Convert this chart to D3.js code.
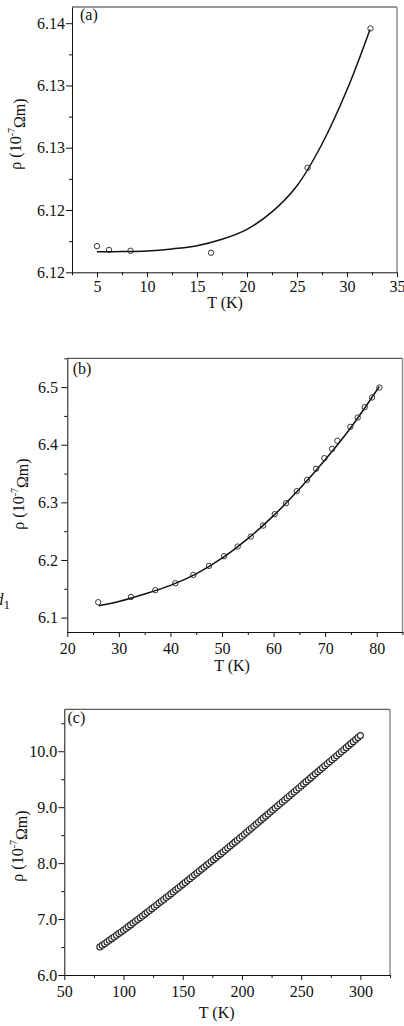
<!DOCTYPE html>
<html>
<head>
<meta charset="utf-8">
<script src="https://cdn.jsdelivr.net/npm/d3@7"></script>
<style>
  body { margin: 0; background: #fff; }
  svg { display: block; }
  text { font-family: "Liberation Serif", "DejaVu Serif", serif; }
</style>
</head>
<body>
<svg id="chart" width="404" height="1026" font-family="Liberation Serif"></svg>
<script>
// ---- panel (a): 5-35 K ----
const aT = [5.0, 6.2, 8.35, 16.4, 26.05, 32.35];
const aRho = [6.1221, 6.1218, 6.12173, 6.12157, 6.12839, 6.13958];
const aFitT = [5, 7.5, 10, 12.5, 15, 17.5, 20, 22.5, 25, 27.5, 30, 32.3];
const aFitRho = [6.12165, 6.12167, 6.12172, 6.12188, 6.12214, 6.12265, 6.12345, 6.12485,
  6.12695, 6.13030, 6.13465, 6.1395];
const aXTicks = [5, 10, 15, 20, 25, 30, 35];
const aXMinor = [2.5, 7.5, 12.5, 17.5, 22.5, 27.5, 32.5];
const aYTicks = [6.120, 6.125, 6.130, 6.135, 6.140];
const aYLabels = ["6.12", "6.12", "6.13", "6.13", "6.14"];
const aYMinor = [6.1225, 6.1275, 6.1325, 6.1375];

// ---- panel (b): 20-85 K ----
const bT = [26.0, 32.35, 37.07, 40.95, 44.44, 47.48, 50.39, 53.05, 55.57, 57.96, 60.22, 62.42,
  64.49, 66.49, 68.24, 69.85, 71.34, 72.37, 74.89, 76.32, 77.68, 79.1, 80.52];
const bRho = [6.1267, 6.1359, 6.1475, 6.1597, 6.1741, 6.1898, 6.2066, 6.2233, 6.2406, 6.2597,
  6.2795, 6.2986, 6.3194, 6.3391, 6.3582, 6.3767, 6.3929, 6.4068, 6.4311, 6.4472, 6.4653,
  6.482, 6.4993];
const bFitT = [26.1, 30, 35, 40, 45, 50, 55, 60, 65, 70, 75, 80.5];
const bFitRho = [6.1205, 6.128, 6.141, 6.156, 6.176, 6.203, 6.237, 6.277, 6.323, 6.374, 6.430, 6.501];
const bXTicks = [20, 30, 40, 50, 60, 70, 80];
const bXMinor = [25, 35, 45, 55, 65, 75, 85];
const bYTicks = [6.1, 6.2, 6.3, 6.4, 6.5];
const bYMinor = [6.15, 6.25, 6.35, 6.45, 6.55];

// ---- panel (c): 80-300 K ----
const cT = [80, 82, 84, 86, 88, 90, 92, 94, 96, 98, 100, 102, 104, 106, 108, 110, 112, 114, 116, 118,
  120, 122, 124, 126, 128, 130, 132, 134, 136, 138, 140, 142, 144, 146, 148, 150, 152, 154, 156, 158,
  160, 162, 164, 166, 168, 170, 172, 174, 176, 178, 180, 182, 184, 186, 188, 190, 192, 194, 196, 198,
  200, 202, 204, 206, 208, 210, 212, 214, 216, 218, 220, 222, 224, 226, 228, 230, 232, 234, 236, 238,
  240, 242, 244, 246, 248, 250, 252, 254, 256, 258, 260, 262, 264, 266, 268, 270, 272, 274, 276, 278,
  280, 282, 284, 286, 288, 290, 292, 294, 296, 298, 300];
const cRho = [6.500, 6.530, 6.560, 6.590, 6.620, 6.650, 6.680, 6.710, 6.740, 6.770,
  6.800, 6.832, 6.864, 6.896, 6.928, 6.960, 6.992, 7.024, 7.056, 7.088,
  7.120, 7.153, 7.186, 7.219, 7.252, 7.285, 7.318, 7.351, 7.384, 7.417,
  7.450, 7.484, 7.518, 7.552, 7.586, 7.620, 7.654, 7.688, 7.722, 7.756,
  7.790, 7.824, 7.858, 7.892, 7.926, 7.960, 7.994, 8.028, 8.062, 8.096,
  8.130, 8.165, 8.200, 8.235, 8.270, 8.305, 8.340, 8.375, 8.410, 8.445,
  8.480, 8.516, 8.552, 8.588, 8.624, 8.660, 8.696, 8.732, 8.768, 8.804,
  8.840, 8.876, 8.912, 8.948, 8.984, 9.020, 9.056, 9.092, 9.128, 9.164,
  9.200, 9.236, 9.272, 9.308, 9.344, 9.380, 9.416, 9.452, 9.488, 9.524,
  9.560, 9.596, 9.632, 9.668, 9.704, 9.740, 9.776, 9.812, 9.848, 9.884,
  9.920, 9.956, 9.992, 10.028, 10.064, 10.100, 10.136, 10.172, 10.208, 10.244, 10.280];
const cXTicks = [50, 100, 150, 200, 250, 300];
const cXMinor = [75, 125, 175, 225, 275, 325];
const cYTicks = [6.0, 7.0, 8.0, 9.0, 10.0];
const cYMinor = [6.5, 7.5, 8.5, 9.5, 10.5];

const FONT = "Liberation Serif, DejaVu Serif, serif";
const svg = d3.select("#chart");

function styleAxis(sel) {
  sel.attr("font-family", FONT).attr("font-size", 16);
  sel.selectAll("text").attr("font-family", FONT).attr("font-size", 16).attr("fill", "#111");
  sel.selectAll("line, path").attr("stroke", "#111");
}

function drawPanel(p) {
  const x = d3.scaleLinear().domain(p.xDomain).range(p.xRange);
  const y = d3.scaleLinear().domain(p.yDomain).range(p.yRange);
  const g = svg.append("g").attr("font-family", FONT);
  const x0 = p.xRange[0], x1 = p.xRange[1], y0 = p.yRange[0], y1 = p.yRange[1];

  // frame (top and right)
  g.append("line").attr("x1", x0).attr("x2", x1).attr("y1", y1).attr("y2", y1)
    .attr("stroke", "#333").attr("stroke-width", 1);
  g.append("line").attr("x1", x1).attr("x2", x1).attr("y1", y1).attr("y2", y0)
    .attr("stroke", "#888").attr("stroke-width", 1.4);

  // minor ticks
  g.append("g").attr("transform", `translate(0,${y0})`)
    .call(d3.axisBottom(x).tickValues(p.xMinor).tickSize(3).tickFormat(""))
    .call(styleAxis).select(".domain").remove();
  g.append("g").attr("transform", `translate(${x0},0)`)
    .call(d3.axisLeft(y).tickValues(p.yMinor).tickSize(3).tickFormat(""))
    .call(styleAxis).select(".domain").remove();

  // major axes
  g.append("g").attr("transform", `translate(0,${y0})`)
    .call(d3.axisBottom(x).tickValues(p.xTicks).tickSize(5).tickSizeOuter(0)
      .tickPadding(p.xPad).tickFormat(d3.format("d")))
    .call(styleAxis);
  g.append("g").attr("transform", `translate(${x0},0)`)
    .call(d3.axisLeft(y).tickValues(p.yTicks).tickSize(6).tickSizeOuter(0)
      .tickPadding(p.yPad).tickFormat(p.yFormat))
    .call(styleAxis);

  // fit line
  if (p.fitT) {
    const line = d3.line()
      .x((d, i) => x(p.fitT[i]))
      .y(d => y(d))
      .curve(d3.curveCatmullRom.alpha(0.5));
    g.append("path").datum(p.fitRho)
      .attr("fill", "none").attr("stroke", "#111").attr("stroke-width", 1.5)
      .attr("d", line);
  }

  // data points
  g.append("g").selectAll("circle")
    .data(p.rho)
    .join("circle")
    .attr("cx", (d, i) => x(p.T[i]))
    .attr("cy", d => y(d))
    .attr("r", p.r)
    .attr("fill", p.fill)
    .attr("stroke", "#222")
    .attr("stroke-width", p.sw);

  // panel letter
  g.append("text").attr("x", p.letterPos[0]).attr("y", p.letterPos[1])
    .attr("font-size", 16).attr("fill", "#111").text(p.letter);

  // x title
  g.append("text").attr("x", p.xTitlePos[0]).attr("y", p.xTitlePos[1])
    .attr("text-anchor", "middle").attr("font-size", 16).attr("fill", "#111")
    .text("T (K)");

  // y title
  const yt = g.append("text")
    .attr("transform", `translate(${p.yTitlePos[0]},${p.yTitlePos[1]}) rotate(-90)`)
    .attr("text-anchor", "middle").attr("dy", "0.33em")
    .attr("font-size", 16).attr("fill", "#111");
  yt.append("tspan").text("\u03c1 (10");
  yt.append("tspan").attr("font-size", 10).attr("dy", "-0.6em").text("-7");
  yt.append("tspan").attr("dy", "0.6em").text("\u03a9m)");
}

drawPanel({
  xDomain: [2.5, 35], xRange: [72, 397],
  yDomain: [6.120, 6.1413], yRange: [272.3, 7],
  xTicks: aXTicks, xMinor: aXMinor, yTicks: aYTicks, yMinor: aYMinor,
  yFormat: (d, i) => aYLabels[i], xPad: 3.6, yPad: 1,
  T: aT, rho: aRho, fitT: aFitT, fitRho: aFitRho, r: 2.7, sw: 0.9, fill: "none",
  letter: "(a)", letterPos: [80, 20],
  xTitlePos: [225, 308], yTitlePos: [16, 134]
});

drawPanel({
  xDomain: [20, 85], xRange: [67.3, 402.5],
  yDomain: [6.075, 6.55], yRange: [632, 358.3],
  xTicks: bXTicks, xMinor: bXMinor, yTicks: bYTicks, yMinor: bYMinor,
  yFormat: d3.format(".1f"), xPad: 5.4, yPad: 3.3,
  T: bT, rho: bRho, fitT: bFitT, fitRho: bFitRho, r: 2.7, sw: 0.9, fill: "none",
  letter: "(b)", letterPos: [72.7, 374],
  xTitlePos: [232, 671], yTitlePos: [19, 494]
});

drawPanel({
  xDomain: [50, 325], xRange: [64.3, 390],
  yDomain: [6.0, 10.75], yRange: [975, 709.3],
  xTicks: cXTicks, xMinor: cXMinor, yTicks: cYTicks, yMinor: cYMinor,
  yFormat: d3.format(".1f"), xPad: 5.3, yPad: 1,
  T: cT, rho: cRho, r: 3.0, sw: 1.1, fill: "#fff",
  letter: "(c)", letterPos: [67.5, 722.5],
  xTitlePos: [216.7, 1018], yTitlePos: [18, 846]
});

// clipped fragment of neighbouring text at the left edge, as in the source figure
const frag = svg.append("text").attr("x", -5).attr("y", 605)
  .attr("font-family", FONT).attr("font-size", 17).attr("fill", "#222");
frag.append("tspan").attr("font-style", "italic").text("d");
frag.append("tspan").attr("font-size", 13).attr("dy", 4).text("1");
</script>
</body>
</html>
